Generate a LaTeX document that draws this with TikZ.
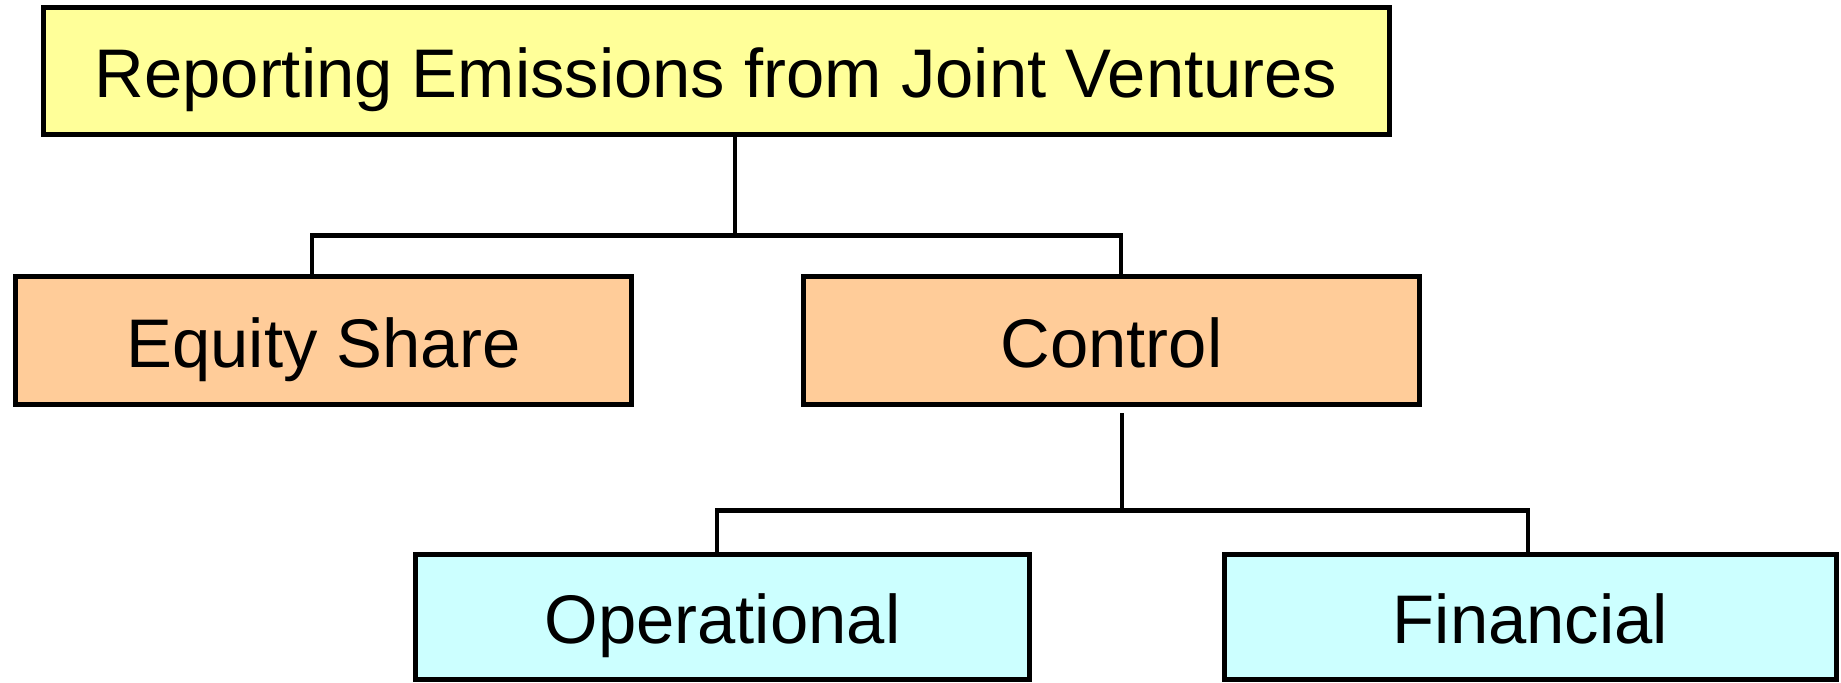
\documentclass[tikz,border=0pt]{standalone}
\usepackage{fontspec}
\setmainfont{Liberation Sans}
\usepackage{tikz}
\usetikzlibrary{calc}
\definecolor{RootFill}{HTML}{FFFF99}
\definecolor{MethodFill}{HTML}{FFCC99}
\definecolor{ControlFill}{HTML}{CCFFFF}

\begin{document}
\begin{tikzpicture}[
    x=0.5pt, y=-0.5pt,
    box/.style={
        draw=black,
        line width=2.5pt,
        inner sep=0pt,
        text height=26.5pt,
        text depth=0pt,
        align=center,
        font=\fontsize{34.4}{40}\selectfont
    },
    link/.style={draw=black, line width=2.2pt}
]
    \useasboundingbox (0,0) rectangle (1841,682);

    % tree of boxes
    \node[box, fill=RootFill, minimum width=673pt, minimum height=63.5pt]
        (title) at (716,70.5) {Reporting Emissions from Joint Ventures};
    \node[box, fill=MethodFill, minimum width=308pt, minimum height=64pt]
        (equity) at (323.5,340.5) {Equity Share};
    \node[box, fill=MethodFill, minimum width=308pt, minimum height=64pt]
        (control) at (1111.5,340.5) {Control};
    \node[box, fill=ControlFill, minimum width=307pt, minimum height=62.5pt]
        (operational) at (722.5,617) {Operational};
    \node[box, fill=ControlFill, minimum width=306pt, minimum height=62.5pt]
        (financial) at (1530.5,617) {Financial};

    % first split
    \coordinate (bus1) at ([xshift=9.5pt,yshift=-49.5pt]title.south);
    \draw[link] ([xshift=9.5pt]title.south) -- (bus1);
    \draw[link] ([xshift=-5.75pt]equity.north) |- (bus1) -| ([xshift=4.75pt]control.north);

    % second split
    \coordinate (bus2) at ([xshift=5.25pt,yshift=-51.75pt]control.south);
    \draw[link] ([xshift=5.25pt,yshift=-3pt]control.south) -- (bus2);
    \draw[link] ([xshift=-2.75pt]operational.north) |- (bus2) -| ([xshift=-1.25pt]financial.north);
\end{tikzpicture}
\end{document}
